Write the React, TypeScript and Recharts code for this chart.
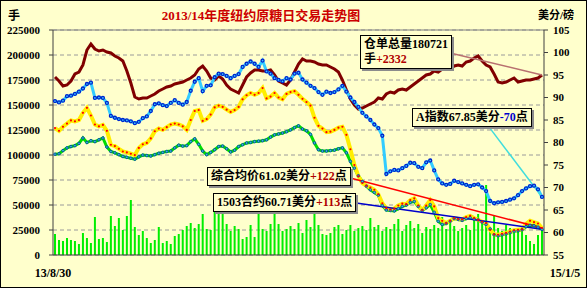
import React from 'react';
import { ComposedChart, Bar, Line, XAxis, YAxis, CartesianGrid, ReferenceLine } from 'recharts';

// warehouse stock (手), left axis
const stockHands = [
  178000, 174000, 169000, 170000, 174000, 181000, 183000, 190000, 205000, 211000,
  206000, 204000, 205000, 203000, 202000, 199000, 197000, 194000, 184000, 172000,
  158000, 156000, 157000, 157000, 159000, 161000, 164000, 166000, 168000, 169000,
  171000, 172000, 173000, 175000, 177000, 180000, 186000, 189000, 184000, 177000,
  175000, 179000, 176000, 170000, 166000, 164000, 162000, 170000, 178000, 182000,
  185000, 185000, 184000, 184000, 185000, 180000, 174000, 172000, 170000, 175000,
  183000, 191000, 196000, 194000, 194000, 193000, 191000, 190000, 190000, 188000,
  186000, 183000, 175000, 165000, 156000, 150000, 146000, 147000, 149000, 151000,
  153000, 157000, 156000, 161000, 163000, 162000, 165000, 166000, 165000, 168000,
  171000, 174000, 177000, 180000, 181000, 184000, 183000, 186000, 187000, 186000,
  189000, 190000, 189000, 193000, 194000, 197000, 199000, 194000, 190000, 188000,
  181000, 173000, 172000, 173000, 175000, 177000, 173000, 174000, 175000, 175000,
  176000, 177000, 180000,
];

// A index (美分/磅), right axis
const indexPrice = [
  89.2, 88.9, 89.3, 90.3, 90.4, 90.8, 91.3, 92.0, 93.0, 93.3,
  89.9, 90.0, 89.9, 88.8, 85.9, 85.5, 85.2, 85.0, 84.9, 84.7,
  84.3, 84.6, 85.4, 85.8, 87.0, 88.5, 88.7, 88.3, 88.1, 88.8,
  89.4, 88.8, 88.4, 89.0, 91.5, 93.5, 94.3, 91.4, 92.6, 92.7,
  94.5, 95.3, 95.2, 94.8, 94.3, 94.8, 95.2, 96.8, 97.5, 98.0,
  97.5, 96.8, 98.2, 95.8, 95.3, 94.3, 93.9, 93.6, 94.3, 94.0,
  95.3, 95.5, 94.0, 93.3, 92.6, 92.1, 91.2, 90.6, 91.3, 91.0,
  91.2, 91.8, 92.6, 91.3, 90.0, 89.0, 87.9, 86.6, 85.8, 85.0,
  84.0, 83.2, 81.5, 73.0, 73.6, 73.9, 73.8, 74.3, 74.8, 75.5,
  75.4, 74.6, 74.3, 75.6, 76.0, 73.8, 71.8, 70.9, 70.6, 70.8,
  71.5, 71.2, 70.9, 70.6, 70.3, 70.6, 70.7, 70.0, 69.2, 67.0,
  66.5, 66.7, 66.8, 67.0, 67.3, 67.6, 68.3, 69.2, 69.8, 70.3,
  70.4, 69.6, 67.9,
];

// 综合均价
const avgPrice = [
  83.2, 82.6, 83.5, 84.2, 84.9, 84.7, 85.0, 86.6, 87.7, 86.0,
  84.0, 83.6, 83.9, 82.6, 79.5, 79.2, 78.6, 78.0, 77.8, 77.5,
  77.2, 78.8, 79.6, 79.9, 80.9, 82.5, 83.1, 82.8, 83.4, 84.0,
  84.2, 84.0, 83.6, 82.8, 85.0, 87.0, 87.2, 84.8, 85.2, 86.2,
  87.8, 88.2, 87.9, 87.3, 86.8, 87.2, 87.9, 89.6, 90.5, 91.0,
  90.6, 91.0, 92.1, 89.8, 90.2, 91.0, 90.0, 89.6, 90.8, 91.2,
  91.4, 90.6, 89.7, 89.0, 88.2, 85.5, 83.7, 83.1, 82.3, 82.4,
  82.8, 83.3, 83.5, 81.7, 78.5, 75.0, 72.5, 71.0, 70.4, 70.0,
  69.5, 68.5, 66.5, 65.4, 65.1, 65.3, 66.0, 66.4, 66.3, 67.2,
  67.6, 66.0, 65.0, 66.0, 67.2, 65.8, 63.2, 62.6, 62.1, 62.6,
  63.2, 63.0, 62.9, 63.4, 63.7, 63.2, 62.8, 62.4, 62.1, 60.6,
  59.6, 59.5, 59.7, 59.9, 60.2, 60.5, 60.6, 60.7, 61.9, 62.6,
  62.3, 62.0, 61.0,
];

// 1503合约
const contract1503 = [
  77.4, 77.5, 78.2, 78.8, 79.1, 79.3, 79.8, 81.0, 80.0, 80.4,
  80.2, 80.6, 81.0, 79.0, 78.0, 77.7, 77.3, 76.9, 76.7, 76.5,
  76.3, 76.8, 77.2, 77.1, 77.0, 77.3, 77.6, 77.8, 78.0, 78.1,
  78.8, 79.4, 79.2, 79.3, 80.2, 80.8, 79.6, 78.1, 77.3, 77.8,
  78.4, 79.1, 79.2, 78.6, 77.9, 78.3, 79.1, 79.5, 79.9, 80.0,
  80.2, 80.3, 80.4, 80.6, 81.2, 81.7, 81.9, 82.1, 82.4, 82.8,
  83.3, 83.7, 83.0, 82.6, 81.8, 79.9, 78.4, 78.1, 78.1, 78.2,
  78.3, 78.6, 78.8, 77.7, 75.8, 74.3, 72.6, 71.3, 70.3, 69.5,
  68.9, 68.3, 66.0, 65.0, 64.9, 64.8, 65.3, 65.8, 66.1, 66.7,
  66.9, 65.8, 64.9, 65.5, 66.2, 64.5, 62.5, 61.8, 62.0, 62.5,
  63.1, 62.9, 62.7, 63.1, 63.3, 63.0, 62.8, 62.3, 61.8, 60.8,
  59.5, 59.3, 59.5, 59.7, 60.0, 60.3, 60.4, 60.6, 61.3, 61.6,
  61.5, 61.2, 60.7,
];

// 成交量 (手), left axis
const volumeHands = [
  21000, 15000, 14000, 17000, 15000, 14000, 11000, 22000, 17000, 12000,
  38000, 16000, 17000, 13000, 39000, 29000, 37000, 25000, 39000, 55000,
  28000, 20000, 24000, 17000, 12000, 15000, 28000, 12000, 14000, 11000,
  19000, 21000, 25000, 29000, 32000, 27000, 31000, 41000, 26000, 25000,
  43000, 44000, 41000, 31000, 24000, 29000, 26000, 16000, 18000, 30000,
  18000, 41000, 26000, 24000, 31000, 43000, 31000, 24000, 26000, 29000,
  26000, 32000, 22000, 35000, 28000, 43000, 30000, 21000, 20000, 22000,
  28000, 30000, 21000, 25000, 30000, 24000, 27000, 29000, 25000, 37000,
  28000, 30000, 24000, 28000, 26000, 31000, 36000, 24000, 30000, 34000,
  27000, 31000, 22000, 28000, 26000, 30000, 27000, 38000, 26000, 32000,
  29000, 24000, 27000, 30000, 25000, 37000, 41000, 35000, 70000, 25000,
  40000, 27000, 24000, 30000, 27000, 22000, 26000, 28000, 20000, 14000,
  11000, 20000, 26000,
];

const dateLabels = ['13/8/30', '15/1/5'];
const leftTicks = [0, 25000, 50000, 75000, 100000, 125000, 150000, 175000, 200000, 225000];
const rightTicks = [55, 60, 65, 70, 75, 80, 85, 90, 95, 100, 105];

const days = volumeHands.map((_, i) => i);
const last = days[days.length - 1];
const data = days.map((d, i) => ({
  day: d,
  volume: volumeHands[i],
  stock: stockHands[i],
  index: indexPrice[i],
  avg: avgPrice[i],
  c1503: contract1503[i],
}));

const FONT = '"Liberation Serif", "Noto Sans CJK SC", serif';
const BG = '#FFFFCC';

const DateTick = (props: any) => {
  const { x, y, payload } = props;
  const isLast = payload.value === last;
  return (
    <text x={isLast ? x + 23 : x - 2} y={y} dy={20} textAnchor="middle"
      fontSize={12} fontWeight="bold" fontFamily={FONT} fill="#000">
      {isLast ? dateLabels[1] : dateLabels[0]}
    </text>
  );
};

const Callout = ({ left, top, children }: { left: number; top: number; children: React.ReactNode }) => (
  <div style={{
    position: 'absolute', left, top, border: '1px solid #000', background: BG,
    boxShadow: '2px 2px 0 #8c8c8c', padding: '1px 3px', fontSize: 12, fontWeight: 'bold',
    lineHeight: '15px', whiteSpace: 'nowrap', fontFamily: FONT, color: '#000',
  }}>
    {children}
  </div>
);

const tickStyle = { fontSize: 11, fontWeight: 'bold', fontFamily: FONT, fill: '#000' };

export default function App() {
  return (
    <div style={{ position: 'absolute', left: 0, top: 0, width: 587, height: 288, background: BG, boxSizing: 'border-box' }}>
      <ComposedChart width={587} height={288} data={data} margin={{ top: 30, right: 0, bottom: 0, left: 0 }} barCategoryGap="25%">
        <CartesianGrid yAxisId="left" vertical={false} stroke="#9a9a9a" strokeDasharray="4 3" />
        <XAxis dataKey="day" ticks={[days[0], last]} interval={0} tick={<DateTick />}
          tickLine={false} tickSize={0} height={33} axisLine={{ stroke: '#404040' }} />
        <YAxis yAxisId="left" domain={[0, 225000]} ticks={leftTicks} interval={0} width={53}
          tick={tickStyle} tickSize={4} tickMargin={9} axisLine={{ stroke: '#404040' }} tickLine={{ stroke: '#404040' }} />
        <YAxis yAxisId="right" orientation="right" domain={[55, 105]} ticks={rightTicks} interval={0} width={43}
          tick={tickStyle} tickSize={4} tickMargin={5} axisLine={{ stroke: '#404040' }} tickLine={{ stroke: '#404040' }} />
        <ReferenceLine yAxisId="left" y={225000} stroke="#808080" />

        <Bar yAxisId="left" dataKey="volume" fill="#00EE00" isAnimationActive={false} />
        <Line yAxisId="left" dataKey="stock" stroke="#800000" strokeWidth={3} dot={false} activeDot={false} isAnimationActive={false} />
        <Line yAxisId="right" dataKey="index" stroke="#33CCFF" strokeWidth={3}
          dot={{ r: 1.5, fill: '#33CCFF', stroke: '#0022CC', strokeWidth: 1.3 }} activeDot={false} isAnimationActive={false} />
        <Line yAxisId="right" dataKey="c1503" stroke="#00DD00" strokeWidth={3}
          dot={{ r: 1.3, fill: '#33CCCC', stroke: '#0033AA', strokeWidth: 0.8 }} activeDot={false} isAnimationActive={false} />
        <Line yAxisId="right" dataKey="avg" stroke="#FFEE00" strokeWidth={4}
          dot={{ r: 1.1, fill: '#FF0000', stroke: 'none' }} activeDot={false} isAnimationActive={false} />

        <ReferenceLine yAxisId="left" segment={[{ x: days[99], y: 202000 }, { x: last, y: stockHands[last] }]} stroke="#B87070" strokeWidth={1.5} />
        <ReferenceLine yAxisId="right" segment={[{ x: days[108], y: 84.3 }, { x: last, y: indexPrice[last] }]} stroke="#40DDDD" strokeWidth={1.5} />
        <ReferenceLine yAxisId="right" segment={[{ x: days[74], y: 72.1 }, { x: last, y: avgPrice[last] }]} stroke="#FF0000" strokeWidth={1.5} />
        <ReferenceLine yAxisId="right" segment={[{ x: days[75], y: 66.6 }, { x: last, y: contract1503[last] }]} stroke="#0000CC" strokeWidth={1.5} />
      </ComposedChart>

      <div style={{ position: 'absolute', left: 0, top: 5, width: 522, textAlign: 'center', fontSize: 13, fontWeight: 'bold', color: '#CC0000', fontFamily: FONT }}>
        2013/14年度纽约原糖日交易走势图
      </div>
      <div style={{ position: 'absolute', left: 8, top: 6, fontSize: 12, fontWeight: 'bold', fontFamily: FONT }}>手</div>
      <div style={{ position: 'absolute', left: 538, top: 6, fontSize: 11, fontWeight: 'bold', fontFamily: FONT, whiteSpace: 'nowrap' }}>美分/磅</div>

      <Callout left={360} top={35}>
        仓单总量180721<br />手<span style={{ color: '#B00000' }}>+2332</span>
      </Callout>
      <Callout left={412} top={108}>
        A指数67.85美分<span style={{ color: '#0000CC' }}>-70</span>点
      </Callout>
      <Callout left={207} top={167}>
        综合均价61.02美分<span style={{ color: '#B00000' }}>+122</span>点
      </Callout>
      <Callout left={213} top={193}>
        1503合约60.71美分<span style={{ color: '#B00000' }}>+113</span>点
      </Callout>

      <div style={{ position: 'absolute', left: 0, top: 0, width: 587, height: 288, border: '1px solid #000', boxSizing: 'border-box', pointerEvents: 'none' }} />
    </div>
  );
}
